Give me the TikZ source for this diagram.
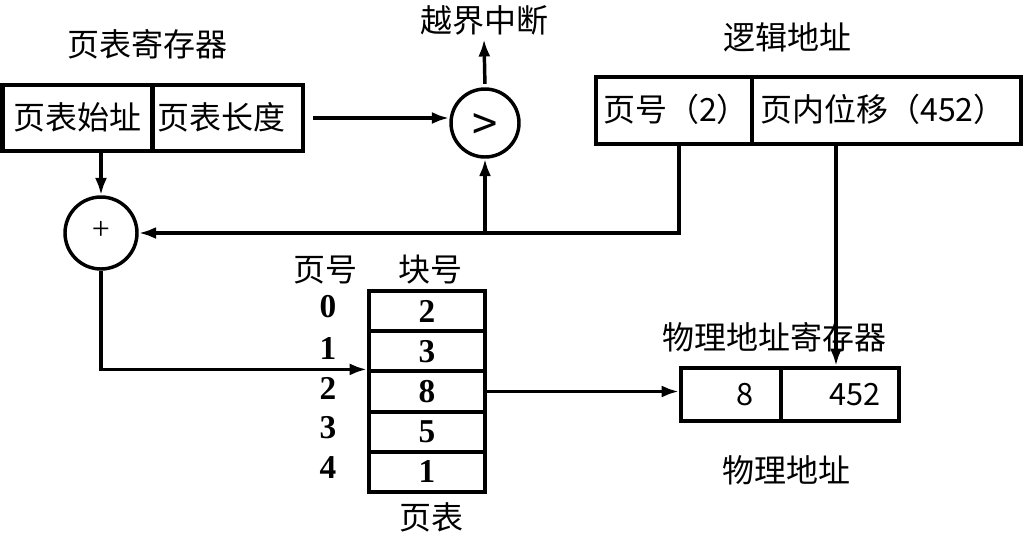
\documentclass[tikz,border=0pt]{standalone}
\usepackage{fontspec}
\setmainfont{Liberation Serif}
\newfontfamily\cjk{Noto Sans CJK SC}
\usetikzlibrary{arrows.meta}
\begin{document}
\begin{tikzpicture}[x=0.75pt,y=-0.75pt,
  cell/.style={draw, line width=3pt, rectangle, inner sep=0pt,
    font=\cjk\fontsize{24}{28}\selectfont},
  trow/.style={draw, line width=3pt, rectangle, inner sep=0pt,
    minimum width=87pt, minimum height=30.15pt,
    font=\bfseries\fontsize{25}{28}\selectfont},
  pnum/.style={font=\bfseries\fontsize{25}{28}\selectfont, inner sep=0pt},
  lbl/.style={font=\cjk\fontsize{24}{28}\selectfont, inner sep=2pt},
  num/.style={font=\cjk\fontsize{23}{26}\selectfont, inner sep=0pt},
  op/.style={draw, circle, line width=2.6pt, inner sep=0pt},
  arr/.style={line width=2.6pt, -{Latex[length=13pt,width=9pt]}},
  ln/.style={line width=2.6pt}
]
\useasboundingbox (0,0) rectangle (1024,544);

% page table register
\node[lbl] (tregl) at (147,44) {页表寄存器};
\node[cell, minimum width=112.5pt, minimum height=49pt] (base) at (77.5,118) {};
\node[cell, minimum width=113.25pt, minimum height=49pt] (len) at (227.5,118) {};
\node[lbl] (baset) at (77,117) {页表始址};
\node[lbl] (lent) at (221,117) {页表长度};

% comparator
\node[op, minimum size=51pt] (cmp) at (485,123) {};
\node[font=\cjk\fontsize{34}{34}\selectfont, inner sep=0pt] (gt) at (485,127) {>};
\node[lbl] (intr) at (484,20) {越界中断};

% logical address
\node[lbl] (logl) at (787,37) {逻辑地址};
\node[cell, minimum width=117pt, minimum height=50.25pt] (pgno) at (674,110.5) {};
\node[cell, minimum width=201.75pt, minimum height=50.25pt] (off) at (886.5,110.5) {};
\node[lbl] (pgnot) at (676,109) {页号（2）};
\node[lbl] (offt) at (883,109) {页内位移（452）};

% adder
\node[op, minimum size=54pt] (plus) at (101,233) {};
\node[font=\fontsize{24}{24}\selectfont, inner sep=0pt] (plust) at (101,230) {+};

% page table
\node[lbl] (pnh) at (325,270) {页号};
\node[lbl] (bnh) at (430,270) {块号};
\node[trow] (r0) at (427,311.1) {2};
\node[trow] (r1) at (427,351.3) {3};
\node[trow] (r2) at (427,391.5) {8};
\node[trow] (r3) at (427,431.7) {5};
\node[trow] (r4) at (427,471.9) {1};
\node[pnum] (p0) at (328,307) {0};
\node[pnum] (p1) at (328,348) {1};
\node[pnum] (p2) at (328,388) {2};
\node[pnum] (p3) at (328,428) {3};
\node[pnum] (p4) at (328,468) {4};
\node[lbl] (ptl) at (431,517) {页表};

% physical address register
\node[lbl] (phregl) at (774,337) {物理地址寄存器};
\node[cell, minimum width=75pt, minimum height=39.75pt] (f8) at (731,394.5) {};
\node[cell, minimum width=88.5pt, minimum height=39.75pt] (f452) at (840,394.5) {};
\node[num] (t8) at (745,395) {8};
\node[num] (t452) at (855,395) {452};
\node[lbl] (phl) at (786,470) {物理地址};

% connectors
\coordinate (j) at (cmp |- plus);
\coordinate (offx) at (836,0);
\coordinate (pgx) at (679,0);
\draw[arr] ([xshift=6pt]len.east) -- (len.east -| cmp.west);
\draw[arr, shorten <=2.5pt] (cmp.north) -- ([yshift=-1pt]intr.south);
\draw[arr] (pgno.south -| pgx) |- (plus.east);
\draw[arr] (j) -- (cmp.south);
\draw[arr] (plus.north |- base.south) -- (plus.north);
\draw[arr] (plus.south) |- (r2.north west);
\draw[arr] (r2.east) -- (r2.east -| f8.west);
\draw[arr] (off.south -| offx) -- (f452.north -| offx);
\end{tikzpicture}
\end{document}
